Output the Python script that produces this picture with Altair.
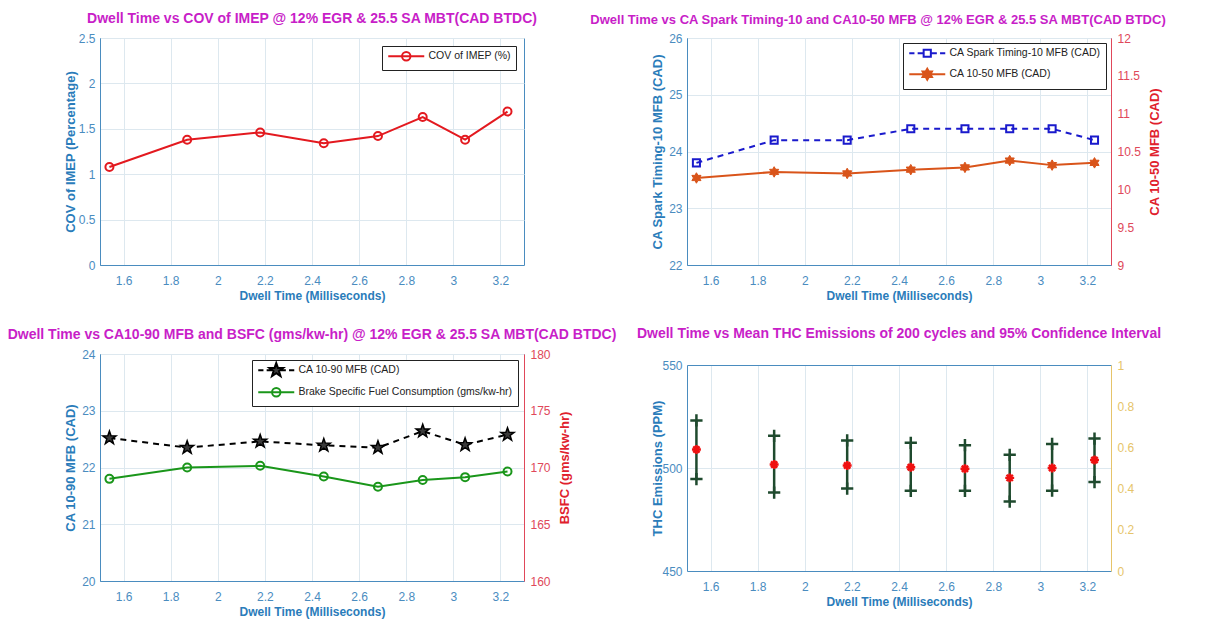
import math
import altair as alt
import pandas as pd

# ---------------- data ----------------
dwell_ms = [1.54, 1.87, 2.18, 2.45, 2.68, 2.87, 3.05, 3.23]
cov_imep = [1.08, 1.38, 1.46, 1.34, 1.42, 1.63, 1.38, 1.69]
spark_10_mfb = [23.8, 24.2, 24.2, 24.4, 24.4, 24.4, 24.4, 24.2]
ca_10_50 = [10.15, 10.23, 10.21, 10.26, 10.29, 10.38, 10.32, 10.35]
ca_10_90 = [22.52, 22.35, 22.46, 22.39, 22.35, 22.64, 22.40, 22.58]
bsfc = [169.0, 170.0, 170.15, 169.2, 168.3, 168.9, 169.15, 169.65]
thc_mean = [509.0, 501.7, 501.2, 500.4, 499.6, 495.2, 500.0, 503.9]
thc_upper = [523.1, 515.6, 513.4, 512.2, 511.1, 506.4, 511.7, 514.3]
thc_lower = [494.6, 488.1, 490.0, 488.9, 488.9, 483.7, 489.0, 493.2]

x_ticks = [1.6, 1.8, 2.0, 2.2, 2.4, 2.6, 2.8, 3.0, 3.2]
cov_ticks = [0, 0.5, 1, 1.5, 2, 2.5]
spark_ticks = [22, 23, 24, 25, 26]
ca1050_ticks = [9, 9.5, 10, 10.5, 11, 11.5, 12]
ca1090_ticks = [20, 21, 22, 23, 24]
bsfc_ticks = [160, 165, 170, 175, 180]
thc_ticks = [450, 500, 550]
aux_ticks = [0, 0.2, 0.4, 0.6, 0.8, 1]

title_1 = "Dwell Time vs COV of IMEP @ 12% EGR & 25.5 SA MBT(CAD BTDC)"
title_2 = "Dwell Time vs CA Spark Timing-10 and CA10-50 MFB @ 12% EGR & 25.5 SA MBT(CAD BTDC)"
title_3 = "Dwell Time vs CA10-90 MFB and BSFC (gms/kw-hr) @ 12% EGR & 25.5 SA MBT(CAD BTDC)"
title_4 = "Dwell Time vs Mean THC Emissions of 200 cycles and 95% Confidence Interval"

legend_1 = ["COV of IMEP (%)"]
legend_2 = ["CA Spark Timing-10 MFB (CAD)", "CA 10-50 MFB (CAD)"]
legend_3 = ["CA 10-90 MFB (CAD)", "Brake Specific Fuel Consumption (gms/kw-hr)"]

df = pd.DataFrame({
    "dwell": dwell_ms, "cov": cov_imep, "spark": spark_10_mfb, "ca1050": ca_10_50,
    "ca1090": ca_10_90, "bsfc": bsfc, "mean": thc_mean, "hi": thc_upper, "lo": thc_lower,
})
aux_df = pd.DataFrame({"r": aux_ticks})

# ---------------- style ----------------
SANS = "Liberation Sans, Arial, sans-serif"
MAG = "#c81ec8"
AXC = "#4a8cbf"
TBLUE = "#2a7cba"
GRID = "#dde8ef"
RAX = "#e0485a"
RTITLE = "#e0202c"
YAX = "#e6c46a"
RED = "#e3191f"
BLUE = "#1a1acc"
ORANGE = "#d9541a"
GREEN = "#1a961a"
DKG = "#1f4a2e"
MRED = "#f01010"

W, H, H4 = 424, 227, 217
XSCALE = alt.Scale(domain=[1.5, 3.3], nice=False, zero=False)
FMT = "~r"


def star(n, r_out, r_in, cx=0.0):
    pts = []
    for k in range(2 * n):
        r = r_out if k % 2 == 0 else r_in
        a = -math.pi / 2 + k * math.pi / n
        pts.append((cx + r * math.cos(a), r * math.sin(a)))
    return "M" + "L".join(f"{x:.3f},{y:.3f}" for x, y in pts) + "Z"


def circ(r, cx):
    return f"M{cx + r},0A{r},{r} 0 1,1 {cx - r},0A{r},{r} 0 1,1 {cx + r},0Z"


# legend symbols: unit = 4 px (symbolSize 64); line runs from -1 to 8 units (36 px), marker at 3.5
MC = 3.5
SOLID = "M-1,0H8"
DASHED = "M-1,0H0.3M1.1,0H2.5M4.5,0H5.9M6.7,0H8"
LEG_CIRCLE = SOLID + circ(1.05, MC)
LEG_SQUARE = DASHED + f"M{MC - 0.9},-0.9H{MC + 0.9}V0.9H{MC - 0.9}Z"
LEG_HEX = SOLID + star(6, 1.35, 0.78, MC)
LEG_PENT = DASHED + star(5, 1.8, 0.72, MC)

HEXAGRAM = star(6, 1.0, 0.577)
PENTAGRAM = star(5, 1.0, 0.40)
PLUS = "M-1,0H1M0,-1V1"
ASTER = "M-1,0H1M0,-1V1M-0.7,-0.7L0.7,0.7M-0.7,0.7L0.7,-0.7"


def x_axis():
    return alt.Axis(values=x_ticks, format=FMT, orient="bottom", title="Dwell Time (Milliseconds)",
                    grid=True, gridColor=GRID, ticks=False, domainColor=AXC, labelColor=AXC,
                    labelFont=SANS, labelFontSize=12, labelPadding=10, labelFlush=False,
                    labelOverlap=False, titleFont=SANS, titleFontSize=12, titleFontWeight="bold",
                    titleColor=TBLUE, titlePadding=4)


def left_axis(title, values):
    return alt.Axis(values=values, format=FMT, orient="left", title=title, grid=True, gridColor=GRID,
                    ticks=False, domainColor=AXC, labelColor=AXC, labelFont=SANS, labelFontSize=12,
                    labelPadding=5, labelOverlap=False, minExtent=20, maxExtent=20, titleFont=SANS,
                    titleFontSize=13, titleFontWeight="bold", titleColor=TBLUE, titlePadding=3,
                    tickCount=len(values))


def right_axis(title, values, color, tcolor):
    kw = dict(values=values, format=FMT, orient="right", grid=False, ticks=False, domainColor=color,
              labelColor=color, labelFont=SANS, labelFontSize=12, labelPadding=6, labelOverlap=False,
              tickCount=len(values))
    if title:
        kw.update(title=title, titleFont=SANS, titleFontSize=13, titleFontWeight="bold",
                  titleColor=tcolor, titlePadding=8, titleAngle=270, titleBaseline="top")
    else:
        kw.update(title="")
    return alt.Axis(**kw)


def tparams(text, dy, dx=0, size=14):
    return alt.TitleParams(text=text, font=SANS, fontSize=size, fontWeight="bold", color=MAG,
                           anchor="middle", frame="group", offset=15, dx=dx, dy=dy,
                           baseline="alphabetic")


def legend_layer(names, strokes, fills, shapes, offset):
    ldf = pd.DataFrame({"series": names})
    lg = alt.Legend(title=None, orient="top-right", offset=offset, strokeColor="#222222",
                    fillColor="white", padding=5, labelFont=SANS, labelFontSize=10.5,
                    labelColor="#222222", labelOffset=31, labelLimit=400, symbolSize=64,
                    symbolStrokeWidth=2, symbolOpacity=1, rowPadding=3, cornerRadius=0)
    return alt.Chart(ldf).mark_point(opacity=0).encode(
        stroke=alt.Stroke("series:N", scale=alt.Scale(domain=names, range=strokes), legend=lg),
        fill=alt.Fill("series:N", scale=alt.Scale(domain=names, range=fills), legend=lg),
        shape=alt.Shape("series:N", scale=alt.Scale(domain=names, range=shapes), legend=lg),
    )


base = alt.Chart(df)
xa = alt.X("dwell:Q", scale=XSCALE, axis=x_axis())

# ---------------- panel 1 ----------------
s_cov = alt.Scale(domain=[0, 2.5], nice=False)
y_cov = alt.Y("cov:Q", scale=s_cov, axis=left_axis("COV of IMEP (Percentage)", cov_ticks))
p1 = alt.layer(
    base.mark_line(color=RED, strokeWidth=2).encode(x=xa, y=y_cov),
    base.mark_point(shape="circle", size=64, filled=False, color=RED, strokeWidth=2, opacity=1).encode(
        x=xa, y=y_cov),
    legend_layer(legend_1, [RED], ["transparent"], [LEG_CIRCLE], 8),
).properties(width=W, height=H, title=tparams(title_1, 20))

# ---------------- panel 2 ----------------
y_sp = alt.Y("spark:Q", scale=alt.Scale(domain=[22, 26], nice=False, zero=False),
             axis=left_axis("CA Spark Timing-10 MFB (CAD)", spark_ticks))
y_c5 = alt.Y("ca1050:Q", scale=alt.Scale(domain=[9, 12], nice=False, zero=False),
             axis=right_axis("CA 10-50 MFB (CAD)", ca1050_ticks, RAX, RTITLE))
p2_left = alt.layer(
    base.mark_line(color=BLUE, strokeWidth=2, strokeDash=[6, 5]).encode(x=xa, y=y_sp),
    base.mark_point(shape="square", size=50, filled=False, color=BLUE, strokeWidth=2, opacity=1).encode(
        x=xa, y=y_sp),
)
p2_right = alt.layer(
    base.mark_line(color=ORANGE, strokeWidth=2).encode(x=xa, y=y_c5),
    base.mark_point(shape=HEXAGRAM, size=110, filled=True, color=ORANGE, stroke=ORANGE, strokeWidth=1,
                    opacity=1).encode(x=xa, y=y_c5),
)
p2 = alt.layer(
    p2_left, p2_right,
    legend_layer(legend_2, [BLUE, ORANGE], ["transparent", ORANGE], [LEG_SQUARE, LEG_HEX], 5),
).resolve_scale(y="independent").properties(width=W, height=H, title=tparams(title_2, 20, -21, 13))

# ---------------- panel 3 ----------------
y_c9 = alt.Y("ca1090:Q", scale=alt.Scale(domain=[20, 24], nice=False, zero=False),
             axis=left_axis("CA 10-90 MFB (CAD)", ca1090_ticks))
y_bs = alt.Y("bsfc:Q", scale=alt.Scale(domain=[160, 180], nice=False, zero=False),
             axis=right_axis("BSFC (gms/kw-hr)", bsfc_ticks, RAX, RTITLE))
p3_left = alt.layer(
    base.mark_line(color="black", strokeWidth=2, strokeDash=[6, 5]).encode(x=xa, y=y_c9),
    base.mark_point(shape=PENTAGRAM, size=190, filled=True, fill="#3a3a3a", stroke="black", strokeWidth=1.5,
                    opacity=1).encode(x=xa, y=y_c9),
)
p3_right = alt.layer(
    base.mark_line(color=GREEN, strokeWidth=2).encode(x=xa, y=y_bs),
    base.mark_point(shape="circle", size=64, filled=False, color=GREEN, strokeWidth=2, opacity=1).encode(
        x=xa, y=y_bs),
)
p3 = alt.layer(
    p3_left, p3_right,
    legend_layer(legend_3, ["black", GREEN], ["#3a3a3a", "transparent"], [LEG_PENT, LEG_CIRCLE], 6),
).resolve_scale(y="independent").properties(width=W, height=H, title=tparams(title_3, 20))

# ---------------- panel 4 ----------------
s_thc = alt.Scale(domain=[450, 550], range=[H4, 11], nice=False, zero=False)
s_aux = alt.Scale(domain=[0, 1], range=[H4, 11], nice=False, zero=False)
s_grid = alt.Scale(domain=[450, 550], range=[0, H4 - 11], nice=False, zero=False)
xn = alt.X("dwell:Q", scale=XSCALE, axis=None)
y_thc_ax = left_axis("THC Emissions (PPM)", thc_ticks)
p4_data = alt.layer(
    base.mark_rule(color=DKG, strokeWidth=2.5).encode(
        x=xn, y=alt.Y("lo:Q", scale=s_thc, axis=y_thc_ax), y2="hi:Q"),
    base.mark_point(shape=PLUS, size=150, filled=False, color=DKG, strokeWidth=2.5, opacity=1).encode(
        x=xn, y=alt.Y("hi:Q", scale=s_thc, axis=y_thc_ax)),
    base.mark_point(shape=PLUS, size=150, filled=False, color=DKG, strokeWidth=2.5, opacity=1).encode(
        x=xn, y=alt.Y("lo:Q", scale=s_thc, axis=y_thc_ax)),
    base.mark_point(shape=ASTER, size=80, filled=False, color=MRED, strokeWidth=2.4, opacity=1).encode(
        x=xn, y=alt.Y("mean:Q", scale=s_thc, axis=y_thc_ax)),
)
p4_xaxis = base.mark_point(opacity=0).encode(
    x=xa, y=alt.Y("mean:Q", scale=s_grid, axis=None))
p4_top = base.mark_point(opacity=0).encode(
    x=alt.X("dwell:Q", scale=XSCALE,
            axis=alt.Axis(orient="top", offset=-11, labels=False, ticks=False, grid=False,
                          title="", domainColor=AXC)))
p4_aux = alt.Chart(aux_df).mark_point(opacity=0).encode(
    y=alt.Y("r:Q", scale=s_aux, axis=right_axis(None, aux_ticks, YAX, YAX)))
p4 = alt.layer(p4_data, p4_xaxis, p4_top, p4_aux).resolve_scale(y="independent").resolve_axis(
    x="independent").properties(width=W, height=H4, title=tparams(title_4, 13),
                                view=alt.ViewBackground(stroke="transparent"))

chart = alt.concat(
    p1, p2, p3, p4, columns=2, bounds="flush", spacing={"row": 89, "column": 163}
).resolve_scale(
    stroke="independent", fill="independent", shape="independent"
).resolve_legend(
    stroke="independent", fill="independent", shape="independent"
).properties(
    autosize=alt.AutoSizeParams(type="none"),
    padding={"left": 100, "top": 38, "right": 1117, "bottom": 582},
    background="white",
).configure_view(stroke=AXC, strokeWidth=1)

chart.save("out.html", embed_options={"renderer": "svg", "actions": False})
